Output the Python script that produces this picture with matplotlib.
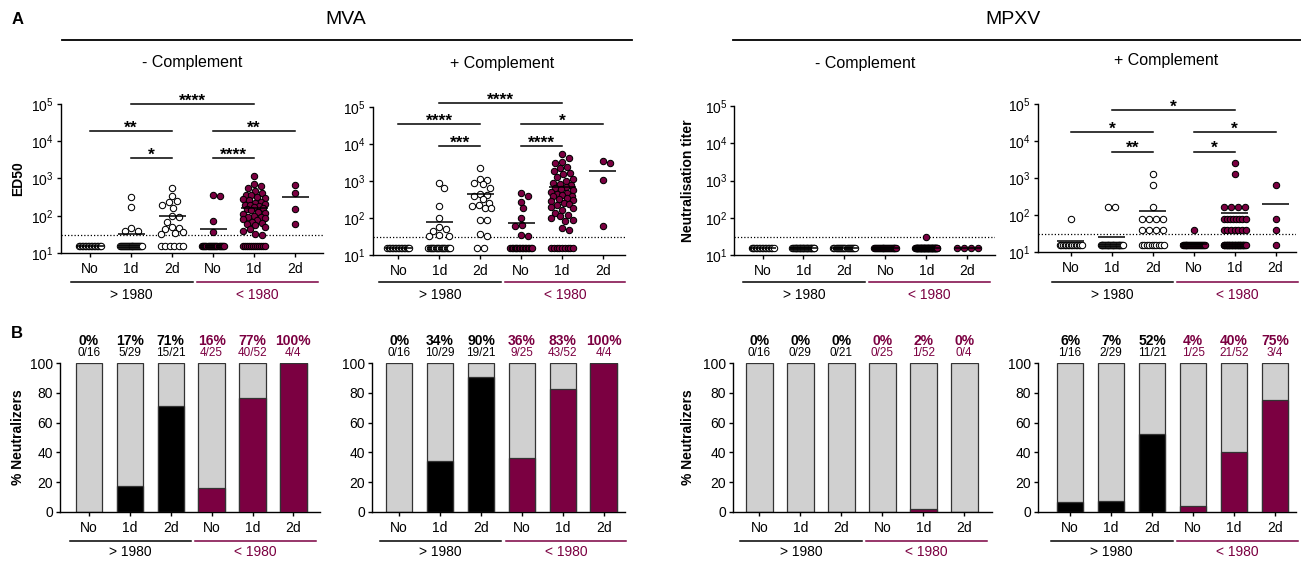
import numpy as np
import matplotlib
matplotlib.use('Agg')
import matplotlib.pyplot as plt
from matplotlib.transforms import blended_transform_factory
from matplotlib.ticker import NullLocator, FixedLocator
from matplotlib.lines import Line2D

plt.rcParams['font.family'] = ['Liberation Sans', 'DejaVu Sans']
plt.rcParams['mathtext.fontset'] = 'custom'
plt.rcParams['mathtext.rm'] = 'Liberation Sans'
plt.rcParams['mathtext.it'] = 'Liberation Sans:italic'
plt.rcParams['mathtext.bf'] = 'Liberation Sans:bold'
plt.rcParams['mathtext.default'] = 'regular'

# ---------------- DATA ----------------
categories = ['No', '1d', '2d', 'No', '1d', '2d']
group_labels = ['> 1980', '< 1980']
lod_plot_value = 15      # non-neutralizers plotted here
cutoff = 30

# MVA, - complement (ED50): values above cutoff + number plotted at LOD
mva_minus_pos = [
    [],
    [310, 175, 47, 40, 38],
    [543, 337, 247, 230, 200, 163, 96, 92, 69, 50, 48, 45, 37, 35, 33],
    [355, 344, 73, 37],
    [1200, 700, 630, 540, 450, 400, 360, 350, 320, 300, 280, 260, 240, 220, 210,
     200, 190, 180, 170, 160, 150, 140, 130, 120, 110, 100, 95, 90, 85, 80, 75,
     70, 65, 60, 55, 50, 45, 40, 33, 31],
    [668, 398, 150, 59],
]
mva_minus_below = [16, 24, 6, 21, 12, 0]
mva_minus_mean = [15, 32, 100, 45, 163, 324]

# MVA, + complement
mva_plus_pos = [
    [],
    [857, 630, 214, 97, 58, 50, 45, 34, 33, 32],
    [2200, 1100, 1050, 900, 800, 650, 450, 420, 380, 330, 260, 230, 210, 190, 180,
     90, 88, 37, 33],
    [460, 380, 275, 181, 97, 63, 61, 35, 33],
    [5200, 4200, 3300, 3000, 2400, 2200, 1800, 1600, 1500, 1300, 1100, 1000, 900,
     800, 750, 700, 650, 600, 550, 500, 480, 450, 420, 400, 380, 350, 320, 300,
     280, 260, 240, 220, 200, 180, 160, 140, 120, 110, 100, 90, 85, 55, 47],
    [3450, 3090, 1050, 62],
]
mva_plus_below = [16, 19, 2, 16, 9, 0]
mva_plus_mean = [15, 79, 432, 74, 668, 1880]

# MPXV, - complement (neutralisation titer)
mpxv_minus_pos = [[], [], [], [], [31], []]
mpxv_minus_below = [16, 29, 21, 25, 51, 4]
mpxv_minus_mean = [15, 15, 15, 15, 15.3, 15]

# MPXV, + complement
mpxv_plus_pos = [
    [80],
    [160, 160],
    [1280, 640, 160, 80, 80, 80, 80, 40, 40, 40, 40],
    [40],
    [2560, 1280, 160, 160, 160, 160, 80, 80, 80, 80, 80, 80, 80, 80,
     40, 40, 40, 40, 40, 40, 40],
    [640, 80, 40],
]
mpxv_plus_below = [15, 27, 10, 24, 31, 1]
mpxv_plus_mean = [19.4, 25.4, 130, 16, 113, 201]

# significance comparisons (group i, group j, label)
mva_minus_sig = [(1, 4, '****'), (0, 2, '**'), (3, 5, '**'), (1, 2, '*'), (3, 4, '****')]
mva_plus_sig = [(1, 4, '****'), (0, 2, '****'), (3, 5, '*'), (1, 2, '***'), (3, 4, '****')]
mpxv_plus_sig = [(1, 4, '*'), (0, 2, '*'), (3, 5, '*'), (1, 2, '**'), (3, 4, '*')]

# neutralizer counts (panel B)
denominators = [16, 29, 21, 25, 52, 4]
mva_minus_num = [0, 5, 15, 4, 40, 4]
mva_plus_num = [0, 10, 19, 9, 43, 4]
mpxv_minus_num = [0, 0, 0, 0, 1, 0]
mpxv_plus_num = [1, 2, 11, 1, 21, 3]

# ---------------- STYLE / LAYOUT ----------------
PURPLE = '#7B0041'
GRAY = '#D0D0D0'
EDGE = '#333333'
W, H = 1301, 561
fig = plt.figure(figsize=(W / 100, H / 100), dpi=100)


def fy(py):
    return 1 - py / H


def add_axes_px(x0, x1, ytop, ybot):
    return fig.add_axes([x0 / W, 1 - ybot / H, (x1 - x0) / W, (ybot - ytop) / H])


def style(ax):
    for s in ['top', 'right']:
        ax.spines[s].set_visible(False)
    for s in ['left', 'bottom']:
        ax.spines[s].set_linewidth(1.0)
        ax.spines[s].set_color('black')
    ax.tick_params(direction='out', length=3, width=1.0, labelsize=10, pad=2,
                   colors='black')
    ax.tick_params(axis='x', pad=3.5)
    ax.set_xticks(range(6))
    ax.set_xticklabels(categories)


def group_lines(ax, yline, ytext):
    tr = blended_transform_factory(ax.transData, fig.transFigure)
    spans = [(-0.47, 2.5), (2.6, 5.55)]
    cols = ['black', PURPLE]
    for (a, b), c, lab in zip(spans, cols, group_labels):
        ax.plot([a, b], [fy(yline), fy(yline)], color=c, lw=1.1,
                transform=tr, clip_on=False)
        ax.text((a + b) / 2, fy(ytext), lab, color=c, fontsize=10,
                ha='center', va='center', transform=tr)


def swarm_offsets(vals, ppu, ppd, d=7.0, maxhalf=11.0):
    vals = np.asarray(vals, float)
    ys = np.log10(vals) * ppd
    offs = np.zeros(len(vals))
    placed = []
    done = np.zeros(len(vals), bool)
    uniq, counts = np.unique(vals, return_counts=True)
    for u, c in zip(uniq, counts):
        if c > 1:
            idx = np.where(vals == u)[0]
            span = min((c - 1) * d, 2 * maxhalf)
            o = np.linspace(-span / 2, span / 2, c)
            offs[idx] = o
            done[idx] = True
            placed += [(oo, np.log10(u) * ppd) for oo in o]
    steps = np.arange(0.5, maxhalf + 0.01, 0.5)
    cands = [0.0]
    for s in steps:
        cands += [s, -s]
    for i in np.argsort(-vals, kind='stable'):
        if done[i]:
            continue
        y = ys[i]
        best, bestd = 0.0, -1
        for c in cands:
            dist = min((np.hypot(c - px, y - py) for px, py in placed), default=1e9)
            if dist >= d:
                best = c
                break
            if dist > bestd:
                bestd, best = dist, c
        offs[i] = best
        placed.append((best, y))
    return offs / ppu


def scatter_panel(ax, pos, below, means, xlim, sig=None, sig_levels=None):
    style(ax)
    ax.set_yscale('log')
    ax.set_ylim(10, 1e5)
    ax.set_xlim(*xlim)
    ax.yaxis.set_major_locator(FixedLocator([10, 100, 1e3, 1e4, 1e5]))
    ax.yaxis.set_minor_locator(NullLocator())
    bb = ax.get_position()
    ppu = bb.width * W / (xlim[1] - xlim[0])
    ppd = bb.height * H / 4.0
    ax.axhline(cutoff, color='black', lw=0.9, ls=(0, (1, 1.6)), zorder=1)
    for i in range(6):
        vals = list(pos[i]) + [lod_plot_value] * below[i]
        if not vals:
            continue
        offs = swarm_offsets(vals, ppu, ppd)
        fc = 'white' if i < 3 else PURPLE
        ax.scatter(i + offs, vals, s=21, facecolor=fc, edgecolor='black',
                   linewidths=0.75, zorder=3, clip_on=False)
        ax.plot([i - 0.33, i + 0.33], [means[i], means[i]], color='black',
                lw=1.1, zorder=4, solid_capstyle='butt')
    if sig:
        for (a, b, lab), lev in zip(sig, sig_levels):
            y = 10 ** lev
            ax.plot([a, b], [y, y], color='black', lw=1.1, clip_on=False)
            ax.annotate(lab, xy=((a + b) / 2, y), xytext=(0, -1.2),
                        textcoords='offset points', ha='center', va='baseline',
                        fontsize=12.5, fontweight='bold', annotation_clip=False)
    group_lines(ax, 282, 295)


def bar_panel(ax, num, xlim):
    style(ax)
    ax.set_ylim(0, 100)
    ax.set_xlim(*xlim)
    ax.set_yticks([0, 20, 40, 60, 80, 100])
    x = np.arange(6)
    pct = 100 * np.array(num) / np.array(denominators)
    ax.bar(x, [100] * 6, width=0.65, color=GRAY, edgecolor=EDGE, linewidth=0.9,
           zorder=2)
    cols = ['black'] * 3 + [PURPLE] * 3
    for i in range(6):
        if pct[i] > 0:
            ax.bar(i, pct[i], width=0.65, color=cols[i], edgecolor=EDGE,
                   linewidth=0.9, zorder=3)
    tr = blended_transform_factory(ax.transData, fig.transFigure)
    for i in range(6):
        ax.text(i, fy(340.7), f"{round(pct[i])}%", color=cols[i], fontsize=10,
                fontweight='bold', ha='center', va='center', transform=tr)
        ax.text(i, fy(353), f"{num[i]}/{denominators[i]}", color=cols[i],
                fontsize=8.5, ha='center', va='center', transform=tr)
    group_lines(ax, 541, 552)


# Panel A
axA1 = add_axes_px(60.5, 323, 104, 253)
scatter_panel(axA1, mva_minus_pos, mva_minus_below, mva_minus_mean, (-0.72, 5.68),
              mva_minus_sig, [5.0, 4.263, 4.263, 3.544, 3.544])
axA2 = add_axes_px(372.7, 625, 106.7, 255)
scatter_panel(axA2, mva_plus_pos, mva_plus_below, mva_plus_mean, (-0.63, 5.54),
              mva_plus_sig, [5.108, 4.52, 4.52, 3.94, 3.94])
axA3 = add_axes_px(734.3, 995, 106, 255)
scatter_panel(axA3, mpxv_minus_pos, mpxv_minus_below, mpxv_minus_mean, (-0.69, 5.68))
axA4 = add_axes_px(1037.7, 1296, 104, 252)
scatter_panel(axA4, mpxv_plus_pos, mpxv_plus_below, mpxv_plus_mean, (-0.81, 5.5),
              mpxv_plus_sig, [4.838, 4.236, 4.236, 3.715, 3.715])

# Panel B
axB1 = add_axes_px(60, 320, 363.3, 511.7)
bar_panel(axB1, mva_minus_num, (-0.71, 5.65))
axB2 = add_axes_px(371.7, 625, 363.3, 511.7)
bar_panel(axB2, mva_plus_num, (-0.67, 5.52))
axB3 = add_axes_px(732.7, 991.7, 363.3, 511.7)
bar_panel(axB3, mpxv_minus_num, (-0.65, 5.67))
axB4 = add_axes_px(1037.7, 1296, 363.3, 511.7)
bar_panel(axB4, mpxv_plus_num, (-0.79, 5.51))

# y labels
fig.text(18.5 / W, fy((104 + 253) / 2), 'ED50', rotation=90, fontsize=10,
         fontweight='bold', ha='center', va='center')
fig.text(688.5 / W, fy((106 + 255) / 2), 'Neutralisation titer', rotation=90,
         fontsize=10, fontweight='bold', ha='center', va='center')
fig.text(18.5 / W, fy((363.3 + 511.7) / 2), '% Neutralizers', rotation=90,
         fontsize=10, fontweight='bold', ha='center', va='center')
fig.text(688.5 / W, fy((363.3 + 511.7) / 2), '% Neutralizers', rotation=90,
         fontsize=10, fontweight='bold', ha='center', va='center')

# panel letters
fig.text(18 / W, fy(19), 'A', fontsize=12, fontweight='bold', ha='center', va='center')
fig.text(17 / W, fy(334), 'B', fontsize=12, fontweight='bold', ha='center', va='center')

# headers
fig.text(346 / W, fy(19), 'MVA', fontsize=14, ha='center', va='center')
fig.text(1013 / W, fy(19), 'MPXV', fontsize=14, ha='center', va='center')
fig.add_artist(Line2D([62 / W, 632 / W], [fy(40), fy(40)], color='black', lw=1.3))
fig.add_artist(Line2D([733 / W, 1301 / W], [fy(40), fy(40)], color='black', lw=1.3))
fig.text(192 / W, fy(62), '- Complement', fontsize=11.5, ha='center', va='center')
fig.text(502 / W, fy(64), '+ Complement', fontsize=11.5, ha='center', va='center')
fig.text(865 / W, fy(64), '- Complement', fontsize=11.5, ha='center', va='center')
fig.text(1166 / W, fy(60), '+ Complement', fontsize=11.5, ha='center', va='center')

fig.savefig('out.png', dpi=100)
